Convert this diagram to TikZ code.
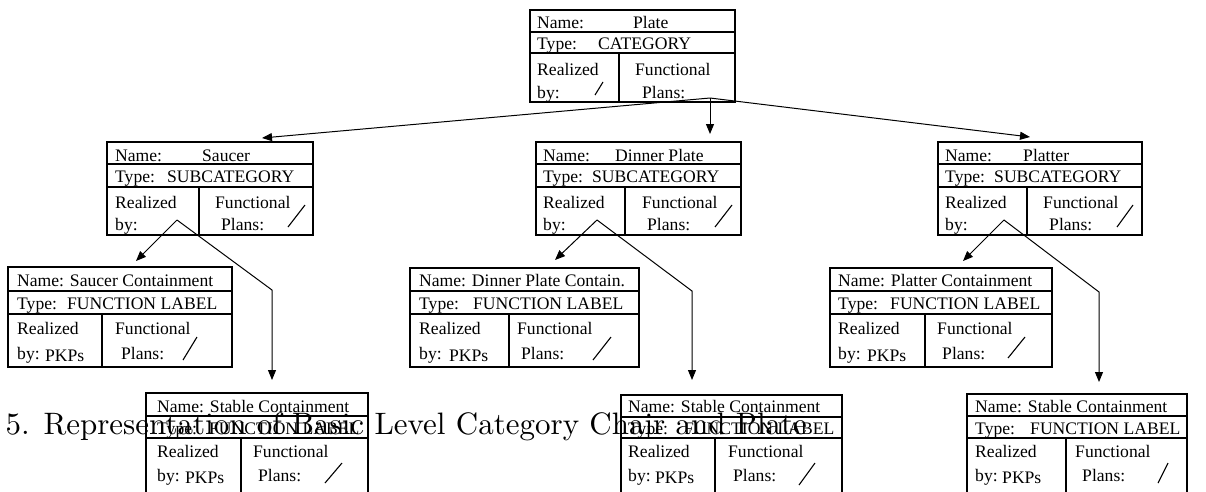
\documentclass[tikz,border=0pt]{standalone}
\usepackage{fontspec}
\newfontfamily\tms{Liberation Serif}
\usetikzlibrary{arrows.meta,calc}
\newcommand\catbx[8]{%
  \node[cbox, minimum width={(#4-#2)*1pt}, minimum height={#8*1pt}] (#1) at (#2,#3) {};
  \draw[sep] (#2,#3+#6) -- (#4,#3+#6);
  \draw[sep] (#2,#3+#7) -- (#4,#3+#7);
  \draw[sep] (#5,#3+#7) -- (#5,#3+#8);
}
\begin{document}
\begin{tikzpicture}[x=1pt,y=-1pt,
  cbox/.style={draw, line width=1.2pt, inner sep=0pt, outer sep=0pt, anchor=north west},
  sep/.style={line width=1.2pt},
  tx/.style={anchor=base west, inner sep=0pt, font=\tms\fontsize{17.6}{20}\selectfont},
  con/.style={line width=1pt},
  arr/.style={con, -{Triangle[length=10pt,width=8pt]}},
  slash/.style={line width=1.1pt},
  captext/.style={anchor=base west, inner sep=0pt, scale=3.1, font=\fontsize{10}{12}\selectfont}]
\useasboundingbox (0,0) rectangle (1206,491);
\clip (0,0) rectangle (1206,491);

% ---------- Plate (category) ----------
\catbx{plate}{530}{10}{735}{619}{22}{43}{92}
\node[tx] (p-n) at (537,28) {Name:};
\node[tx] (p-nv) at (633,28) {Plate};
\node[tx] (p-t) at (537,49) {Type:};
\node[tx] (p-tv) at (598,49) {CATEGORY};
\node[tx] (p-r) at (537,75) {Realized};
\node[tx] (p-b) at (537,98) {by:};
\node[tx] (p-f) at (635,75) {Functional};
\node[tx] (p-pl) at (642,98) {Plans:};
\draw[slash] (595,95) -- (603,82);

% ---------- Subcategories ----------
\catbx{saucer}{107}{142}{313}{199}{22}{45}{93}
\node[tx] (s-n) at (115,161) {Name:};
\node[tx] (s-nv) at (202,161) {Saucer};
\node[tx] (s-t) at (115,182) {Type:};
\node[tx] (s-tv) at (167,182) {SUBCATEGORY};
\node[tx] (s-r) at (115,208) {Realized};
\node[tx] (s-b) at (115,230) {by:};
\node[tx] (s-f) at (215,208) {Functional};
\node[tx] (s-pl) at (221,230) {Plans:};
\draw[slash] (288,227) -- (305,205);

\catbx{dinner}{536}{142}{741}{625}{22}{45}{93}
\node[tx] (d-n) at (543,161) {Name:};
\node[tx] (d-nv) at (615,161) {Dinner Plate};
\node[tx] (d-t) at (543,182) {Type:};
\node[tx] (d-tv) at (592,182) {SUBCATEGORY};
\node[tx] (d-r) at (543,208) {Realized};
\node[tx] (d-b) at (543,230) {by:};
\node[tx] (d-f) at (642,208) {Functional};
\node[tx] (d-pl) at (647,230) {Plans:};
\draw[slash] (715,227) -- (732,205);

\catbx{platter}{938}{142}{1142}{1027}{22}{45}{93}
\node[tx] (t-n) at (945,161) {Name:};
\node[tx] (t-nv) at (1023,161) {Platter};
\node[tx] (t-t) at (945,182) {Type:};
\node[tx] (t-tv) at (994,182) {SUBCATEGORY};
\node[tx] (t-r) at (945,208) {Realized};
\node[tx] (t-b) at (945,230) {by:};
\node[tx] (t-f) at (1043,208) {Functional};
\node[tx] (t-pl) at (1049,230) {Plans:};
\draw[slash] (1117,227) -- (1133,205);

% ---------- Function labels (row 3) ----------
\catbx{sc}{8}{267}{232}{102}{24}{47}{100}
\node[tx] (sc-n) at (17,286) {Name: Saucer Containment};
\node[tx] (sc-t) at (17,309) {Type:};
\node[tx] (sc-tv) at (67,309) {FUNCTION LABEL};
\node[tx] (sc-r) at (17,334) {Realized};
\node[tx] (sc-b) at (17,359) {by:};
\node[tx] (sc-k) at (45,361) {PKPs};
\node[tx] (sc-f) at (115,334) {Functional};
\node[tx] (sc-pl) at (121,359) {Plans:};
\draw[slash] (183,360) -- (197,337);

\catbx{dc}{410}{268}{639}{509}{23}{46}{99}
\node[tx] (dc-n) at (419,286) {Name: Dinner Plate Contain.};
\node[tx] (dc-t) at (419,309) {Type:};
\node[tx] (dc-tv) at (473,309) {FUNCTION LABEL};
\node[tx] (dc-r) at (419,334) {Realized};
\node[tx] (dc-b) at (419,359) {by:};
\node[tx] (dc-k) at (449,361) {PKPs};
\node[tx] (dc-f) at (517,334) {Functional};
\node[tx] (dc-pl) at (521,359) {Plans:};
\draw[slash] (593,360) -- (611,337);

\catbx{tc}{830}{268}{1052}{925}{23}{46}{99}
\node[tx] (tc-n) at (838,286) {Name: Platter Containment};
\node[tx] (tc-t) at (838,309) {Type:};
\node[tx] (tc-tv) at (890,309) {FUNCTION LABEL};
\node[tx] (tc-r) at (838,334) {Realized};
\node[tx] (tc-b) at (838,359) {by:};
\node[tx] (tc-k) at (867,361) {PKPs};
\node[tx] (tc-f) at (937,334) {Functional};
\node[tx] (tc-pl) at (942,359) {Plans:};
\draw[slash] (1008,358) -- (1025,337);

% ---------- Stable Containment (row 4) ----------
\catbx{ss}{146}{393}{368}{241}{23}{45}{100}
\node[tx] (ss-n) at (157,412) {Name: Stable Containment};
\node[tx] (ss-t) at (157,434) {Type:};
\node[tx] (ss-tv) at (209,434) {FUNCTION LABEL};
\node[tx] (ss-r) at (157,457) {Realized};
\node[tx] (ss-b) at (157,481) {by:};
\node[tx] (ss-k) at (185,483) {PKPs};
\node[tx] (ss-f) at (253,457) {Functional};
\node[tx] (ss-pl) at (258,481) {Plans:};
\draw[slash] (325,483) -- (342,463);

\catbx{ds}{621}{395}{842}{715}{22}{43}{100}
\node[tx] (ds-n) at (628,412) {Name: Stable Containment};
\node[tx] (ds-t) at (628,434) {Type:};
\node[tx] (ds-tv) at (684,434) {FUNCTION LABEL};
\node[tx] (ds-r) at (628,457) {Realized};
\node[tx] (ds-b) at (628,481) {by:};
\node[tx] (ds-k) at (655,483) {PKPs};
\node[tx] (ds-f) at (728,457) {Functional};
\node[tx] (ds-pl) at (733,481) {Plans:};
\draw[slash] (799,485) -- (815,463);

\catbx{ts}{967}{394}{1187}{1066}{22}{44}{100}
\node[tx] (ts-n) at (975,412) {Name: Stable Containment};
\node[tx] (ts-t) at (975,434) {Type:};
\node[tx] (ts-tv) at (1030,434) {FUNCTION LABEL};
\node[tx] (ts-r) at (975,457) {Realized};
\node[tx] (ts-b) at (975,481) {by:};
\node[tx] (ts-k) at (1002,483) {PKPs};
\node[tx] (ts-f) at (1075,457) {Functional};
\node[tx] (ts-pl) at (1082,481) {Plans:};
\draw[slash] (1158,483) -- (1168,463);

% ---------- Connectors ----------
\coordinate (pf) at (710,98);
\draw[arr] (pf) -- ($(saucer.north west)+(155,-4)$);
\draw[arr] (pf) -- ($(dinner.north west)+(174,-8)$);
\draw[arr] (pf) -- ($(platter.north west)+(92,-5)$);

\coordinate (sf) at (177,220);
\coordinate (sb) at (272,290);
\draw[arr] (sf) -- ($(sc.north west)+(128,-6)$);
\draw[arr] (sf) -- (sb) -- ($(ss.north west)+(126,-13)$);

\coordinate (df) at (597,220);
\coordinate (db) at (692,291);
\draw[arr] (df) -- ($(dc.north west)+(145,-8)$);
\draw[arr] (df) -- (db) -- ($(ds.north west)+(71,-15)$);

\coordinate (tf) at (1004,220);
\coordinate (tb) at (1099,292);
\draw[arr] (tf) -- ($(tc.north west)+(133,-7)$);
\draw[arr] (tf) -- (tb) -- ($(ts.north west)+(132,-12)$);

% ---------- Overlaid caption ----------
\node[captext] (cap) at (5,434) {5. Representation of Basic Level Category Chair and Plate};
\end{tikzpicture}
\end{document}
